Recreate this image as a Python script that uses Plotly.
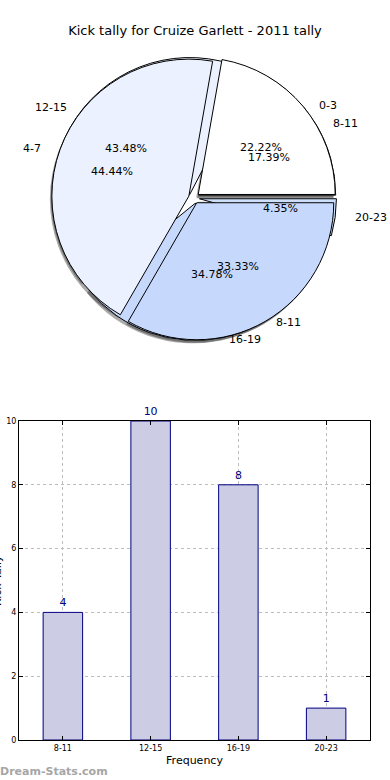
import math
import plotly.graph_objects as go

# ---------------- data ----------------
title_text = "Kick tally for Cruize Garlett - 2011 tally"

pie1_labels = ["8-11", "12-15", "16-19", "20-23"]
pie1_values = [4, 10, 8, 1]

pie2_labels = ["0-3", "4-7", "8-11"]
pie2_values = [2, 4, 3]

bar_categories = ["8-11", "12-15", "16-19", "20-23"]
bar_values = [4, 10, 8, 1]
y_ticks = [0, 2, 4, 6, 8, 10]

x_title = "Frequency"
y_title = "Kick Tally"
watermark = "Dream-Stats.com"

# ---------------- styling ----------------
W, H = 390, 780
FONT = "DejaVu Sans"
slice_colors = ["#ffffff", "#ebf1fe", "#c6d9fd", "#cddffd"]
PULL = 0.04

# pie geometry (pixels)
cx, cy = 194, 198
R = 137
rx, ry = 146, 131  # label placement radii (matches the reference's oval layout)

def px2paper(x, y):
    return x / W, 1 - y / H

def pie_domain(cx_, cy_):
    half = R * (1 + PULL)
    x0, y1 = px2paper(cx_ - half, cy_ - half)
    x1, y0 = px2paper(cx_ + half, cy_ + half)
    return dict(x=[x0, x1], y=[y0, y1])

fig = go.Figure()

# Slices run counterclockwise from 3 o'clock: feed them reversed, drawn clockwise.
def add_pie(labels, vals, colors, dom, line, key):
    n = len(vals)
    fig.add_trace(go.Pie(
        values=vals[::-1], labels=[f"{key}{i}" for i in range(n)][::-1],
        sort=False, direction="clockwise", rotation=90,
        pull=[PULL] * n, textinfo="none",
        hoverinfo="skip" if key.startswith("s") else "text+value+percent",
        hovertext=labels[::-1],
        marker=dict(colors=colors[::-1], line=line),
        domain=dom, showlegend=False,
    ))

# shadows
add_pie(pie1_labels, pie1_values, ["rgba(0,0,0,0.33)"] * 4, pie_domain(cx - 2, cy + 3), dict(width=0), "sa")
add_pie(pie2_labels, pie2_values, ["rgba(0,0,0,0.33)"] * 3, pie_domain(cx - 2, cy + 3), dict(width=0), "sb")
# the two pies (second one drawn on top)
add_pie(pie1_labels, pie1_values, slice_colors[:4], pie_domain(cx, cy), dict(color="black", width=1), "pa")
add_pie(pie2_labels, pie2_values, slice_colors[:3], pie_domain(cx, cy), dict(color="black", width=1), "pb")

annotations = []

def pie_annotations(labels, vals):
    total = sum(vals)
    start = 0.0
    for lab, v in zip(labels, vals):
        frac = v / total
        mid = math.radians((start + frac / 2) * 360)
        start += frac
        c, s = math.cos(mid), math.sin(mid)
        lx, ly = px2paper(cx + 1.1 * rx * c, cy - 1.1 * ry * s)
        annotations.append(dict(
            x=lx, y=ly, xref="paper", yref="paper", text=lab, showarrow=False,
            xanchor="left" if c > 0 else "right", yanchor="middle",
            font=dict(family=FONT, size=11, color="black"),
        ))
        tx, ty = px2paper(cx + 0.6 * rx * c, cy - 0.6 * ry * s)
        annotations.append(dict(
            x=tx, y=ty, xref="paper", yref="paper", text=f"{frac * 100:.2f}%",
            showarrow=False, xanchor="center", yanchor="middle",
            font=dict(family=FONT, size=11, color="black"),
        ))

pie_annotations(pie1_labels, pie1_values)
pie_annotations(pie2_labels, pie2_values)

# bar chart
fig.add_trace(go.Bar(
    x=list(range(len(bar_categories))), y=bar_values, width=0.45,
    marker=dict(color="#ccccE5", line=dict(color="#000080", width=1)),
    text=[str(v) for v in bar_values], textposition="outside",
    textfont=dict(family=FONT, size=11, color="#000080"),
    cliponaxis=False, showlegend=False, xaxis="x", yaxis="y",
))

bx0, by_top = px2paper(19, 421)
bx1, by_bot = px2paper(370, 740)

fig.update_layout(
    width=W, height=H,
    margin=dict(l=0, r=0, t=0, b=0, pad=0, autoexpand=False),
    paper_bgcolor="white", plot_bgcolor="white",
    font=dict(family=FONT, color="black"),
    title=dict(text=title_text, x=0.5, xanchor="center", y=1 - 30 / H, yanchor="middle",
               font=dict(family=FONT, size=13, color="black")),
    xaxis=dict(
        domain=[bx0, bx1], range=[-0.5, 3.5], automargin=False,
        tickmode="array", tickvals=list(range(len(bar_categories))), ticktext=bar_categories,
        tickfont=dict(size=8, family=FONT), ticks="inside", ticklen=4, tickcolor="black",
        showline=True, linecolor="black", linewidth=1, mirror="ticks",
        showgrid=True, gridcolor="#bdbdbd", griddash="dot", gridwidth=1,
        zeroline=False, anchor="y",
        title=dict(text=x_title, font=dict(size=11, family=FONT), standoff=4),
    ),
    yaxis=dict(
        domain=[by_bot, by_top], range=[0, 10], automargin=False,
        tickmode="array", tickvals=y_ticks,
        tickfont=dict(size=8, family=FONT), ticks="inside", ticklen=4, tickcolor="black",
        showline=True, linecolor="black", linewidth=1, mirror="ticks",
        showgrid=True, gridcolor="#bdbdbd", griddash="dot", gridwidth=1,
        zeroline=False, anchor="x",
    ),
    annotations=annotations + [
        dict(x=0, y=(by_bot + by_top) / 2, xref="paper", yref="paper", text=y_title,
             textangle=-90, showarrow=False, xanchor="right", yanchor="middle", xshift=6,
             font=dict(size=11, family=FONT, color="black")),
        dict(x=0, y=1 - 771 / H, xref="paper", yref="paper", text=f"<b>{watermark}</b>",
             showarrow=False, xanchor="left", yanchor="middle", xshift=-2,
             font=dict(size=11, family=FONT, color="#a6a6a6")),
    ],
)

fig.write_html("out.html", config={"displayModeBar": False},
               post_script="document.body.style.margin='0px';")
